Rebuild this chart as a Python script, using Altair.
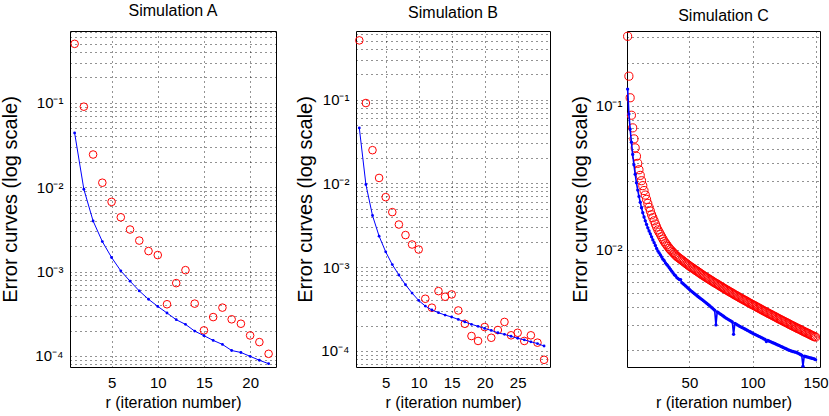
import altair as alt
import pandas as pd

TITLES = ["Simulation A", "Simulation B", "Simulation C"]
X_TITLE = "r (iteration number)"
Y_TITLE = "Error curves (log scale)"

# ---------------- Simulation A ----------------
r_A = list(range(1, 23))
red_A = [0.50, 0.090, 0.0244, 0.0113, 0.0067, 0.0044, 0.00315, 0.00233, 0.00175, 0.00157,
         4.1e-4, 7.3e-4, 1.04e-3, 4.17e-4, 2.01e-4, 2.89e-4, 3.74e-4, 2.72e-4, 2.41e-4, 1.75e-4,
         1.46e-4, 1.06e-4]
blue_A = [0.044, 0.00946, 0.00398, 0.00227, 0.00147, 0.00102, 7.7e-4, 5.9e-4, 4.7e-4, 3.87e-4,
          3.23e-4, 2.69e-4, 2.37e-4, 1.97e-4, 1.74e-4, 1.53e-4, 1.37e-4, 1.16e-4, 1.10e-4, 9.9e-5,
          8.9e-5, 8.1e-5]

# ---------------- Simulation B ----------------
r_B = list(range(1, 30))
red_B = [0.51, 0.091, 0.0249, 0.0116, 0.00684, 0.00453, 0.00322, 0.00241, 0.00186, 0.00162,
         4.18e-4, 3.27e-4, 5.16e-4, 4.42e-4, 4.71e-4, 3.03e-4, 2.1e-4, 1.5e-4, 1.31e-4, 1.92e-4,
         1.43e-4, 1.77e-4, 2.21e-4, 1.53e-4, 1.64e-4, 1.31e-4, 1.53e-4, 1.25e-4, 7.8e-5]
blue_B = [0.0459, 0.00968, 0.00413, 0.00234, 0.00152, 0.00107, 8.03e-4, 6.15e-4, 4.89e-4, 3.99e-4,
          3.42e-4, 3.07e-4, 2.85e-4, 2.67e-4, 2.53e-4, 2.37e-4, 2.21e-4, 2.07e-4, 1.96e-4, 1.85e-4,
          1.75e-4, 1.64e-4, 1.57e-4, 1.49e-4, 1.41e-4, 1.35e-4, 1.28e-4, 1.22e-4, 1.14e-4]

# ---------------- Simulation C ----------------
r_C = list(range(1, 151))
red_C = [0.305, 0.161, 0.114, 0.0862, 0.0704, 0.0590, 0.0511, 0.0447, 0.0399, 0.0360,
         0.0329, 0.0302, 0.0279, 0.0258, 0.0240, 0.0224, 0.0210, 0.0197, 0.0186, 0.0175,
         0.0167, 0.0159, 0.0151, 0.0144, 0.01374, 0.01324, 0.01276, 0.01230, 0.01186, 0.01143,
         0.01112, 0.01081, 0.01052, 0.01023, 0.01000, 0.00978, 0.00957, 0.00938, 0.00918, 0.00899,
         0.00886, 0.00872, 0.00859, 0.00846, 0.00833, 0.00820, 0.00807, 0.00795, 0.00783, 0.00771,
         0.00760, 0.00750, 0.00740, 0.00729, 0.00719, 0.00710, 0.00700, 0.00690, 0.00681, 0.00671,
         0.00662, 0.00654, 0.00645, 0.00637, 0.00629, 0.00621, 0.00613, 0.00605, 0.00597, 0.00590,
         0.00583, 0.00576, 0.00569, 0.00562, 0.00555, 0.00548, 0.00541, 0.00535, 0.00528, 0.00522,
         0.00516, 0.00510, 0.00504, 0.00498, 0.00492, 0.00486, 0.00481, 0.00475, 0.00470, 0.00464,
         0.00459, 0.00454, 0.00449, 0.00444, 0.00439, 0.00434, 0.00429, 0.00424, 0.00419, 0.00415,
         0.00411, 0.00406, 0.00402, 0.00397, 0.00393, 0.00389, 0.00384, 0.00380, 0.00376, 0.00372,
         0.00368, 0.00364, 0.00360, 0.00356, 0.00353, 0.00349, 0.00345, 0.00342, 0.00338, 0.00334,
         0.00331, 0.00327, 0.00324, 0.00321, 0.00317, 0.00314, 0.00311, 0.00308, 0.00304, 0.00301,
         0.00298, 0.00295, 0.00292, 0.00289, 0.00286, 0.00283, 0.00281, 0.00278, 0.00275, 0.00272,
         0.00269, 0.00267, 0.00264, 0.00262, 0.00259, 0.00256, 0.00254, 0.00251, 0.00249, 0.00247]
blue_C = [0.131, 0.088, 0.069, 0.056, 0.046, 0.039, 0.0335, 0.0292, 0.0260, 0.0235,
          0.0214, 0.0196, 0.0181, 0.0169, 0.0159, 0.0150, 0.0142, 0.0135, 0.0129, 0.0123,
          0.0117, 0.0112, 0.0107, 0.0102, 0.0098, 0.0095, 0.0092, 0.0089, 0.0086, 0.0084,
          0.0081, 0.0079, 0.0077, 0.0075, 0.0073, 0.0071, 0.0069, 0.0067, 0.0066, 0.0064,
          0.0063, 0.0062, 0.0062, 0.0059, 0.0058, 0.0057, 0.0056, 0.0055, 0.0054, 0.0053,
          0.0052, 0.00512, 0.00503, 0.00495, 0.00487, 0.00479, 0.00471, 0.00464, 0.00457, 0.00450,
          0.00443, 0.00436, 0.00429, 0.00422, 0.00415, 0.00408, 0.00401, 0.00394, 0.00387, 0.00380,
          0.00300, 0.00370, 0.00365, 0.00360, 0.00355, 0.00350, 0.00345, 0.00340, 0.00335, 0.00331,
          0.00327, 0.00323, 0.00319, 0.00315, 0.00258, 0.00308, 0.00304, 0.00300, 0.00297, 0.00293,
          0.00290, 0.00287, 0.00284, 0.00281, 0.00278, 0.00275, 0.00272, 0.00269, 0.00266, 0.00263,
          0.00260, 0.00258, 0.00255, 0.00253, 0.00250, 0.00248, 0.00245, 0.00243, 0.00240, 0.00238,
          0.00230, 0.00234, 0.00232, 0.00230, 0.00228, 0.00226, 0.00224, 0.00222, 0.00220, 0.00218,
          0.00216, 0.00214, 0.00212, 0.00210, 0.00208, 0.00206, 0.00204, 0.00202, 0.00200, 0.00199,
          0.00197, 0.00196, 0.00195, 0.00194, 0.00193, 0.00191, 0.00189, 0.00187, 0.00185, 0.00155,
          0.00182, 0.00181, 0.00180, 0.00179, 0.00178, 0.00177, 0.00176, 0.00175, 0.00174, 0.00172]

# ---------------- ticks ----------------
x_ticks_A = [5, 10, 15, 20]
x_ticks_B = [5, 10, 15, 20, 25]
x_ticks_C = [50, 100, 150]
decades = [1e-5, 1e-4, 1e-3, 1e-2, 1e-1]
decade_labels = ["10\u207b\u2075", "10\u207b\u2074", "10\u207b\u00b3", "10\u207b\u00b2", "10\u207b\u00b9"]

FONT = "Liberation Sans"


def label_expr():
    parts = []
    for d, lab in zip(decades, decade_labels):
        parts.append("datum.value == %r ? '%s' : " % (d, lab))
    return "".join(parts) + "''"


def grid_values(lo, hi):
    vals = []
    for d in decades:
        for m in range(1, 10):
            v = m * d if m > 1 else d
            if lo <= v <= hi:
                vals.append(v)
    return vals


def panel(r, red, blue, xdom, xticks, ydom, title, width, title_pad, label_pad,
          blue_width=1.0, blue_size=8, red_size=58):
    rows = [{"r": a, "v": b, "s": "red"} for a, b in zip(r, red)]
    rows += [{"r": a, "v": b, "s": "blue"} for a, b in zip(r, blue)]
    df = pd.DataFrame(rows)
    base = alt.Chart(df).encode(
        x=alt.X("r:Q",
                scale=alt.Scale(domain=xdom, nice=False, zero=False),
                axis=alt.Axis(values=xticks, title=X_TITLE, labelPadding=8,
                              titlePadding=4, labelFontSize=15, titleFontSize=16,
                              labelOverlap=False)),
        y=alt.Y("v:Q",
                scale=alt.Scale(type="log", domain=ydom, nice=False),
                axis=alt.Axis(values=grid_values(ydom[0], ydom[1]), labelExpr=label_expr(),
                              title=Y_TITLE, titlePadding=title_pad, labelPadding=label_pad,
                              labelFontSize=15, titleFontSize=20, labelOverlap=False)),
    )
    red_layer = base.transform_filter(alt.datum.s == "red").mark_point(
        shape="circle", filled=False, color="#ff0000", size=red_size, strokeWidth=1, opacity=1)
    blue_line = base.transform_filter(alt.datum.s == "blue").mark_line(
        color="#0000ff", strokeWidth=blue_width)
    blue_pts = base.transform_filter(alt.datum.s == "blue").mark_point(
        shape="circle", filled=True, color="#0000ff", size=blue_size, opacity=1)
    return alt.layer(red_layer, blue_line, blue_pts).properties(
        width=width, height=336,
        title=alt.TitleParams(title, fontSize=16, font=FONT, fontWeight="normal",
                              color="black", anchor="middle", frame="group",
                              baseline="alphabetic", offset=-7))


pA = panel(r_A, red_A, blue_A, [0.5, 22.8], x_ticks_A, [7.4e-5, 0.71], TITLES[0], 206, 14, 7)
pB = panel(r_B, red_B, blue_B, [0.5, 29.9], x_ticks_B, [6.4e-5, 0.66], TITLES[1], 194, 5, 7)
pC = panel(r_C, red_C, blue_C, [0.5, 153.5], x_ticks_C, [0.00153, 0.332], TITLES[2], 193, 5, 5,
           blue_width=1.6, blue_size=11, red_size=66)

chart = alt.hconcat(pA, pB, pC, spacing=18).properties(
    padding={"left": 0, "top": 2, "right": 0, "bottom": 0},
    background="white",
).configure_view(
    stroke="black", strokeWidth=1
).configure_axis(
    labelFont=FONT, titleFont=FONT, labelColor="black", titleColor="black",
    titleFontWeight="normal", grid=True, gridColor="black", gridDash=[1, 4],
    gridOpacity=0.85, gridWidth=1, domain=False, ticks=False, tickSize=0,
)

chart.save("out.html", embed_options={"renderer": "svg", "actions": False})
